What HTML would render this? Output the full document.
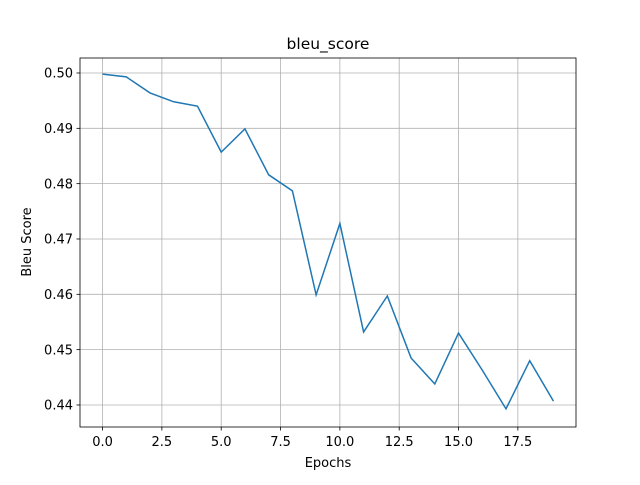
<!DOCTYPE html>
<html><head><meta charset="utf-8"><style>
body{margin:0;background:#fff;font-family:"Liberation Sans","DejaVu Sans",sans-serif;}
svg text{font-family:"DejaVu Sans","Liberation Sans",sans-serif;}
</style></head><body>
<svg id="chart" width="640" height="480" xmlns="http://www.w3.org/2000/svg">
<rect width="640" height="480" fill="#fff"/>
<g id="grid"></g>
<g id="ticks"></g>
<rect x="80" y="58" width="496" height="369" fill="none" stroke="#000" stroke-width="0.8"/>
<path id="line" fill="none" stroke="#1f77b4" stroke-width="1.5"/>
<text x="328" y="49" font-size="15.5" text-anchor="middle">bleu_score</text>
<text x="328" y="467" font-size="13" text-anchor="middle">Epochs</text>
<text transform="translate(31,242) rotate(-90)" font-size="13" text-anchor="middle">Bleu Score</text>
</svg>
<script>
const epochs=[0,1,2,3,4,5,6,7,8,9,10,11,12,13,14,15,16,17,18,19];
const bleuScores=[0.4998,0.4993,0.4964,0.4948,0.4940,0.4857,0.4899,0.4816,0.4787,0.4599,0.4728,0.4532,0.4597,0.4485,0.4438,0.4530,0.4463,0.4393,0.4480,0.4407];
const xTicks=[0,2.5,5,7.5,10,12.5,15,17.5];
const xTickLabels=["0.0","2.5","5.0","7.5","10.0","12.5","15.0","17.5"];
const yTicks=[0.44,0.45,0.46,0.47,0.48,0.49,0.50];
const yTickLabels=["0.44","0.45","0.46","0.47","0.48","0.49","0.50"];
const L=80,R=576,T=58,B=427;
const xmin=-0.95,xmax=19.95,ymin=0.43602,ymax=0.50271;
const xs=v=>L+(v-xmin)/(xmax-xmin)*(R-L);
const ys=v=>B-(v-ymin)/(ymax-ymin)*(B-T);
const NS="http://www.w3.org/2000/svg";
const grid=document.getElementById('grid'),ticks=document.getElementById('ticks');
function mk(tag,a,p){const e=document.createElementNS(NS,tag);for(const k in a)e.setAttribute(k,a[k]);p.appendChild(e);return e;}
xTicks.forEach((t,i)=>{const x=xs(t);
 const g=mk('line',{x1:x,x2:x,y1:T,y2:B,stroke:'#b0b0b0','stroke-width':0.8},grid);
 
 
 mk('line',{x1:x,x2:x,y1:B,y2:B+3.5,stroke:'#000','stroke-width':0.8},ticks);
 const tx=mk('text',{x:x,y:B+19,'font-size':13,'text-anchor':'middle'},ticks);tx.textContent=xTickLabels[i];
 
 
});
yTicks.forEach((t,i)=>{const y=ys(t);
 const g=mk('line',{x1:L,x2:R,y1:y,y2:y,stroke:'#b0b0b0','stroke-width':0.8},grid);
 
 
 mk('line',{x1:L-3.5,x2:L,y1:y,y2:y,stroke:'#000','stroke-width':0.8},ticks);
 const tx=mk('text',{x:L-7,y:y+4.7,'font-size':13,'text-anchor':'end'},ticks);tx.textContent=yTickLabels[i];
 
 
});
document.getElementById('line').setAttribute('d',epochs.map((e,i)=>(i?'L':'M')+xs(e).toFixed(2)+','+ys(bleuScores[i]).toFixed(2)).join(''));
</script>
</body></html>
